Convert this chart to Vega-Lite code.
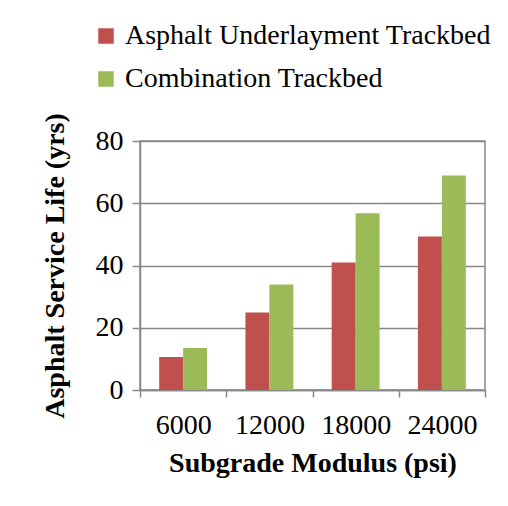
{
  "$schema": "https://vega.github.io/schema/vega-lite/v6.json",
  "width": 345,
  "height": 249,
  "autosize": {"type": "none"},
  "padding": {"left": 140, "top": 141, "right": 23, "bottom": 116},
  "background": "white",
  "data": {
    "values": [
      {"modulus": "6000", "series": "Asphalt Underlayment Trackbed", "life": 10.6},
      {"modulus": "6000", "series": "Combination Trackbed", "life": 13.5},
      {"modulus": "12000", "series": "Asphalt Underlayment Trackbed", "life": 24.9},
      {"modulus": "12000", "series": "Combination Trackbed", "life": 33.9},
      {"modulus": "18000", "series": "Asphalt Underlayment Trackbed", "life": 41.0},
      {"modulus": "18000", "series": "Combination Trackbed", "life": 56.8},
      {"modulus": "24000", "series": "Asphalt Underlayment Trackbed", "life": 49.3},
      {"modulus": "24000", "series": "Combination Trackbed", "life": 68.9}
    ]
  },
  "mark": {"type": "bar"},
  "encoding": {
    "x": {
      "field": "modulus",
      "type": "nominal",
      "sort": ["6000", "12000", "18000", "24000"],
      "scale": {"paddingInner": 0, "paddingOuter": 0},
      "axis": {
        "title": "Subgrade Modulus (psi)",
        "labelAngle": 0,
        "tickBand": "extent",
        "tickSize": 7,
        "labelPadding": 14,
        "titlePadding": 10
      }
    },
    "xOffset": {
      "field": "series",
      "type": "nominal",
      "scale": {"paddingInner": 0, "paddingOuter": 0.8}
    },
    "y": {
      "field": "life",
      "type": "quantitative",
      "scale": {"domain": [0, 80]},
      "axis": {
        "title": "Asphalt Service Life (yrs)",
        "values": [0, 20, 40, 60, 80],
        "tickSize": 8,
        "labelPadding": 9,
        "titlePadding": 26
      }
    },
    "color": {
      "field": "series",
      "type": "nominal",
      "scale": {"domain": ["Asphalt Underlayment Trackbed", "Combination Trackbed"], "range": ["#C0504D", "#9BBB59"]},
      "legend": {
        "title": null,
        "orient": "none",
        "legendX": -48,
        "legendY": -119,
        "padding": 0,
        "symbolType": "square",
        "symbolSize": 240,
        "symbolStrokeWidth": 0,
        "labelFontSize": 28,
        "labelFont": "Liberation Serif",
        "labelColor": "black",
        "labelLimit": 0,
        "labelOffset": 5,
        "rowPadding": 15
      }
    }
  },
  "config": {
    "view": {"stroke": "#888888", "strokeWidth": 1.5},
    "axis": {
      "labelFont": "Liberation Serif",
      "labelFontSize": 28,
      "labelColor": "black",
      "titleFont": "Liberation Serif",
      "titleFontSize": 28,
      "titleFontWeight": "bold",
      "titleColor": "black",
      "domainColor": "#888888",
      "domainWidth": 1.5,
      "tickColor": "#888888",
      "tickWidth": 1.5,
      "gridColor": "#888888",
      "gridWidth": 1.5
    },
    "axisX": {"grid": false},
    "axisY": {"grid": true}
  }
}
